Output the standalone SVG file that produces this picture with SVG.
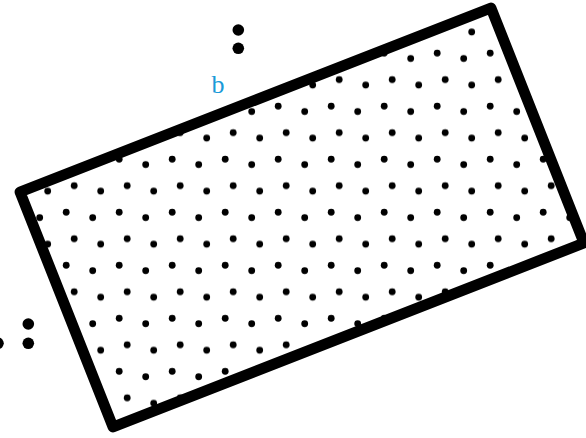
<svg xmlns="http://www.w3.org/2000/svg" width="586" height="438" viewBox="0 0 586 438">
  <style>
    .big { fill: #000; }
    .lbl { font-family: "Liberation Serif", "DejaVu Serif", serif; font-size: 26px; fill: #1a9ad8; }
  </style>
  <defs>
    <pattern id="dots" patternUnits="userSpaceOnUse" x="0" y="-10" width="53" height="53.04">
      <circle cx="13.2" cy="10.08" r="3.4" fill="#000"/>
      <circle cx="39.7" cy="15.48" r="3.4" fill="#000"/>
      <circle cx="21.2" cy="36.6" r="3.4" fill="#000"/>
      <circle cx="47.7" cy="42" r="3.4" fill="#000"/>
    </pattern>
  </defs>
  <rect width="586" height="438" fill="#fff"/>
  <g id="plate">
    <polygon points="20,192 491,8 584,243 113,427" fill="url(#dots)" stroke="#000" stroke-width="10.8" stroke-linejoin="round"/>
  </g>
  <g id="outer-dots">
    <circle class="big" cx="238.3" cy="30" r="5.8"/>
    <circle class="big" cx="238.3" cy="48.3" r="5.8"/>
    <circle class="big" cx="28.3" cy="324" r="5.8"/>
    <circle class="big" cx="28.3" cy="343.3" r="5.8"/>
    <circle class="big" cx="-2" cy="343.3" r="5.8"/>
  </g>
  <g id="label-b">
    <text class="lbl" x="211.5" y="92.5">b</text>
  </g>
</svg>
